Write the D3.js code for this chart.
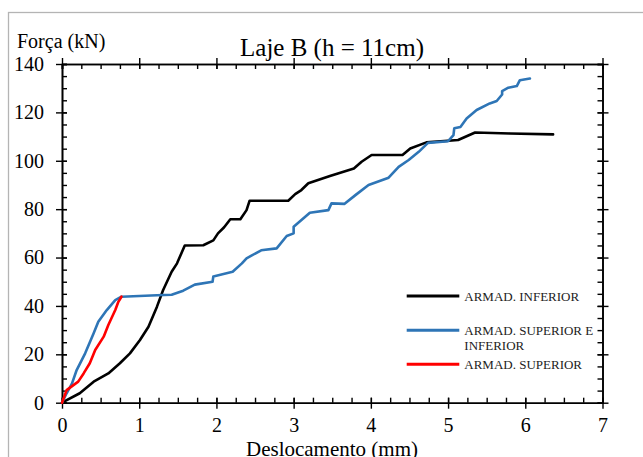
<!DOCTYPE html>
<html lang="pt">
<meta charset="utf-8">
<style>
body { margin: 0; background: #fff; }
svg text { font-family: 'Liberation Serif', 'Times New Roman', serif; }
.axis .domain { stroke: #000; stroke-width: 1.6px; }
.axis line { stroke: #000; stroke-width: 1.4px; }
.axis text { font-family: 'Liberation Serif', serif; font-size: 20px; fill: #000; }
.curve { fill: none; stroke-width: 2.6px; stroke-linejoin: round; stroke-linecap: round; }
</style>
<body>
<div id="chart"></div>
<script src="https://d3js.org/d3.v7.min.js"></script>
<script>
// set width and height of graphic
var width = 643,
    height = 457;

// ARMAD. INFERIOR
var infDesl  = [0, 0.23, 0.41, 0.60, 0.75, 0.88, 1.01, 1.12, 1.23, 1.31, 1.42, 1.49, 1.59, 1.83, 1.96, 2.02, 2.10, 2.18, 2.31, 2.39, 2.43, 2.93, 3.02, 3.10, 3.19, 3.47, 3.78, 3.88, 4.01, 4.41, 4.51, 4.72, 5.13, 5.35, 5.80, 6.36];
var infForca = [0, 3.9, 8.7, 12.1, 16.3, 20.4, 25.9, 31.4, 39.7, 46.6, 54.1, 57.6, 65.0, 65.1, 67.1, 70.0, 72.5, 75.8, 75.8, 79.6, 83.5, 83.5, 86.2, 87.9, 90.7, 93.7, 96.8, 99.6, 102.4, 102.4, 105.1, 107.6, 108.6, 111.7, 111.3, 110.9];

// ARMAD. SUPERIOR E INFERIOR
var supInfDesl  = [0, 0.06, 0.13, 0.19, 0.30, 0.41, 0.47, 0.58, 0.69, 0.77, 1.23, 1.42, 1.57, 1.72, 1.95, 1.96, 2.21, 2.33, 2.39, 2.58, 2.78, 2.91, 3.00, 3.00, 3.21, 3.45, 3.49, 3.66, 3.80, 3.97, 4.23, 4.36, 4.49, 4.62, 4.74, 5.00, 5.07, 5.08, 5.16, 5.24, 5.37, 5.54, 5.63, 5.70, 5.70, 5.78, 5.89, 5.93, 6.06];
var supInfForca = [0, 3.9, 8.0, 13.5, 20.4, 28.7, 33.5, 38.3, 42.4, 43.8, 44.4, 44.6, 46.3, 48.8, 50.0, 52.2, 54.1, 57.6, 59.7, 63.0, 63.8, 68.9, 70.0, 72.7, 78.5, 79.6, 82.4, 82.2, 85.8, 90.0, 93.0, 97.5, 100.3, 103.7, 107.4, 108.1, 110.6, 113.4, 114.0, 117.5, 121.0, 123.7, 124.7, 127.4, 128.8, 130.2, 130.9, 133.3, 134.0];

// ARMAD. SUPERIOR
var supDesl  = [0, 0.06, 0.21, 0.28, 0.36, 0.43, 0.54, 0.60, 0.69, 0.73, 0.77];
var supForca = [0, 5.2, 8.7, 12.1, 16.3, 21.8, 27.3, 32.1, 38.3, 41.7, 43.8];

var xTicks = [0, 1, 2, 3, 4, 5, 6, 7];
var yTicks = [0, 20, 40, 60, 80, 100, 120, 140];

var series = [
  { name: ["ARMAD. INFERIOR"], x: infDesl, y: infForca, color: "#000000" },
  { name: ["ARMAD. SUPERIOR E", "INFERIOR"], x: supInfDesl, y: supInfForca, color: "#2e75b6" },
  { name: ["ARMAD. SUPERIOR"], x: supDesl, y: supForca, color: "#ff0000" }
];

// plot box (window.top is reserved, so own names here)
var plotL = 62, plotR = 602.5, plotT = 64, plotB = 402.7;

var x = d3.scaleLinear().domain([0, 7]).range([plotL, plotR]);
var y = d3.scaleLinear().domain([0, 140]).range([plotB, plotT]);

var svg = d3.select("#chart").append("svg")
    .attr("width", width)
    .attr("height", height)
    .attr("font-family", "'Liberation Serif', serif");

// outer frame (cut at right and bottom)
svg.append("rect")
    .attr("x", 8.5).attr("y", 12.5)
    .attr("width", 700).attr("height", 500)
    .attr("fill", "none")
    .attr("stroke", "#b4b4b4")
    .attr("stroke-width", 1.3);

var xMinor = d3.range(0, 7.001, 0.25);
var yMinor = d3.range(0, 140.001, 5);

// minor ticks, all pointing inside
svg.append("g").attr("class", "axis")
    .attr("transform", "translate(0," + plotB + ")")
    .call(d3.axisBottom(x).tickValues(xMinor).tickSize(-5).tickFormat(""));
svg.append("g").attr("class", "axis")
    .attr("transform", "translate(0," + plotT + ")")
    .call(d3.axisTop(x).tickValues(xMinor).tickSize(-5).tickFormat(""));
svg.append("g").attr("class", "axis")
    .attr("transform", "translate(" + plotL + ",0)")
    .call(d3.axisLeft(y).tickValues(yMinor).tickSize(-5).tickFormat(""));
svg.append("g").attr("class", "axis")
    .attr("transform", "translate(" + plotR + ",0)")
    .call(d3.axisRight(y).tickValues(yMinor).tickSize(-5).tickFormat(""));

// major ticks crossing the axis lines
var gx = svg.append("g").attr("class", "axis")
    .attr("transform", "translate(0," + plotB + ")")
    .call(d3.axisBottom(x).tickValues(xTicks).tickSize(6).tickSizeOuter(0).tickPadding(9).tickFormat(d3.format("d")));
gx.selectAll(".tick line").attr("y1", -5);

var gxt = svg.append("g").attr("class", "axis")
    .attr("transform", "translate(0," + plotT + ")")
    .call(d3.axisTop(x).tickValues(xTicks).tickSize(6).tickSizeOuter(0).tickFormat(""));
gxt.selectAll(".tick line").attr("y1", 5);

var gy = svg.append("g").attr("class", "axis")
    .attr("transform", "translate(" + plotL + ",0)")
    .call(d3.axisLeft(y).tickValues(yTicks).tickSize(6).tickSizeOuter(0).tickPadding(12).tickFormat(d3.format("d")));
gy.selectAll(".tick line").attr("x1", 5);

var gyr = svg.append("g").attr("class", "axis")
    .attr("transform", "translate(" + plotR + ",0)")
    .call(d3.axisRight(y).tickValues(yTicks).tickSize(6).tickSizeOuter(0).tickFormat(""));
gyr.selectAll(".tick line").attr("x1", -5);

// curves
var line = d3.line()
    .x(function(d) { return x(d[0]); })
    .y(function(d) { return y(d[1]); });

svg.append("g").selectAll("path")
    .data(series)
  .enter().append("path")
    .attr("class", "curve")
    .attr("stroke", function(d) { return d.color; })
    .attr("d", function(d) { return line(d3.zip(d.x, d.y)); });

// titles
svg.append("text")
    .attr("x", 332).attr("y", 56)
    .attr("text-anchor", "middle")
    .style("font-size", "25px")
    .text("Laje B (h = 11cm)");

svg.append("text")
    .attr("x", 17).attr("y", 48)
    .style("font-size", "20px")
    .text("Força (kN)");

svg.append("text")
    .attr("x", 332).attr("y", 456)
    .attr("text-anchor", "middle")
    .style("font-size", "21px")
    .text("Deslocamento (mm)");

// legend
var legY = [296, 330.3, 364.3];
var leg = svg.append("g").selectAll("g")
    .data(series)
  .enter().append("g")
    .attr("transform", function(d, i) { return "translate(0," + legY[i] + ")"; });

leg.append("line")
    .attr("x1", 406.7).attr("x2", 459.3)
    .attr("stroke", function(d) { return d.color; })
    .attr("stroke-width", 3);

leg.append("text")
    .style("font-size", "13px")
    .attr("fill", "#222")
  .selectAll("tspan")
    .data(function(d) { return d.name; })
  .enter().append("tspan")
    .attr("x", 464.3)
    .attr("y", function(d, i) { return 4.7 + i * 15.3; })
    .text(function(d) { return d; });
</script>
</body>
</html>
